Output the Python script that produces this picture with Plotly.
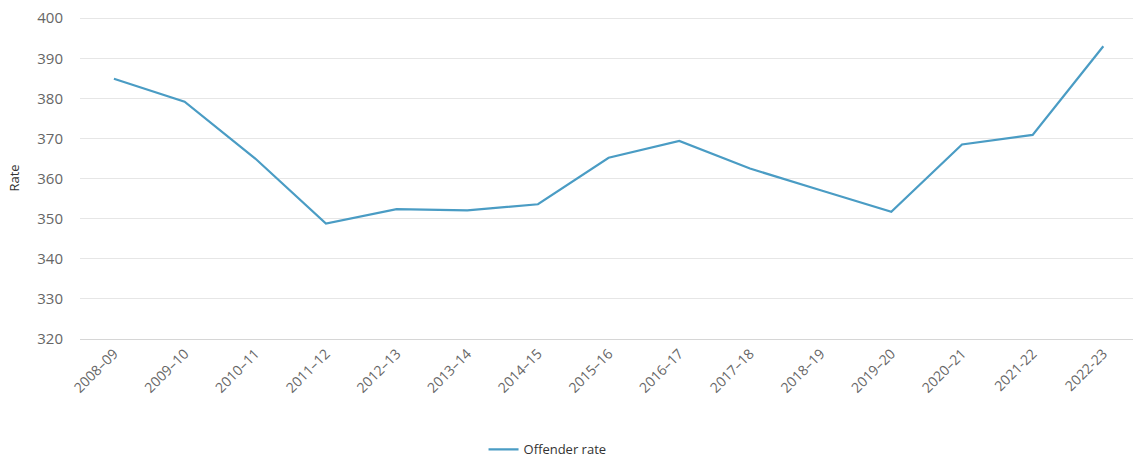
import plotly.graph_objects as go

categories = ["2008–09", "2009–10", "2010–11", "2011–12", "2012–13", "2013–14",
              "2014–15", "2015–16", "2016–17", "2017–18", "2018–19", "2019–20",
              "2020–21", "2021-22", "2022-23"]
offender_rate = [384.9, 379.2, 365.0, 348.8, 352.4, 352.1, 353.6, 365.2,
                 369.4, 362.5, 357.1, 351.7, 368.5, 370.9, 393.0]
y_ticks = [320, 330, 340, 350, 360, 370, 380, 390, 400]

fig = go.Figure()
fig.add_trace(go.Scatter(
    x=list(range(len(categories))), y=offender_rate, mode="lines",
    name="Offender rate", line=dict(color="#4a9cc4", width=2.2),
))

fig.update_layout(
    width=1133, height=459,
    margin=dict(l=80, r=0, t=17, b=120, autoexpand=False),
    paper_bgcolor="white", plot_bgcolor="white",
    font=dict(family="Open Sans, Noto Sans, sans-serif", color="#666666"),
    showlegend=True,
    legend=dict(orientation="h", x=0.444, xanchor="center", y=-0.343, yanchor="middle",
                font=dict(size=13, color="#333333")),
    xaxis=dict(
        tickmode="array", tickvals=list(range(len(categories))), ticktext=categories,
        range=[-0.48, 14.42], tickangle=-45, showgrid=False, zeroline=False,
        showline=True, linecolor="#d6d6d6", linewidth=1, automargin=False,
        tickfont=dict(size=14, color="#666666"), ticks="",
    ),
    yaxis=dict(
        range=[320, 400.3], tickvals=y_ticks, showgrid=True, gridcolor="#e6e6e6",
        gridwidth=1, zeroline=False, tickfont=dict(size=15, color="#666666"),
        ticklabelstandoff=16, automargin=False, ticklabeloverflow="allow",
        title=dict(text="Rate", font=dict(size=13, color="#333333"), standoff=14),
    ),
)

fig.write_html("out.html", config={"displayModeBar": False},
               post_script="document.body.style.margin='0';")
